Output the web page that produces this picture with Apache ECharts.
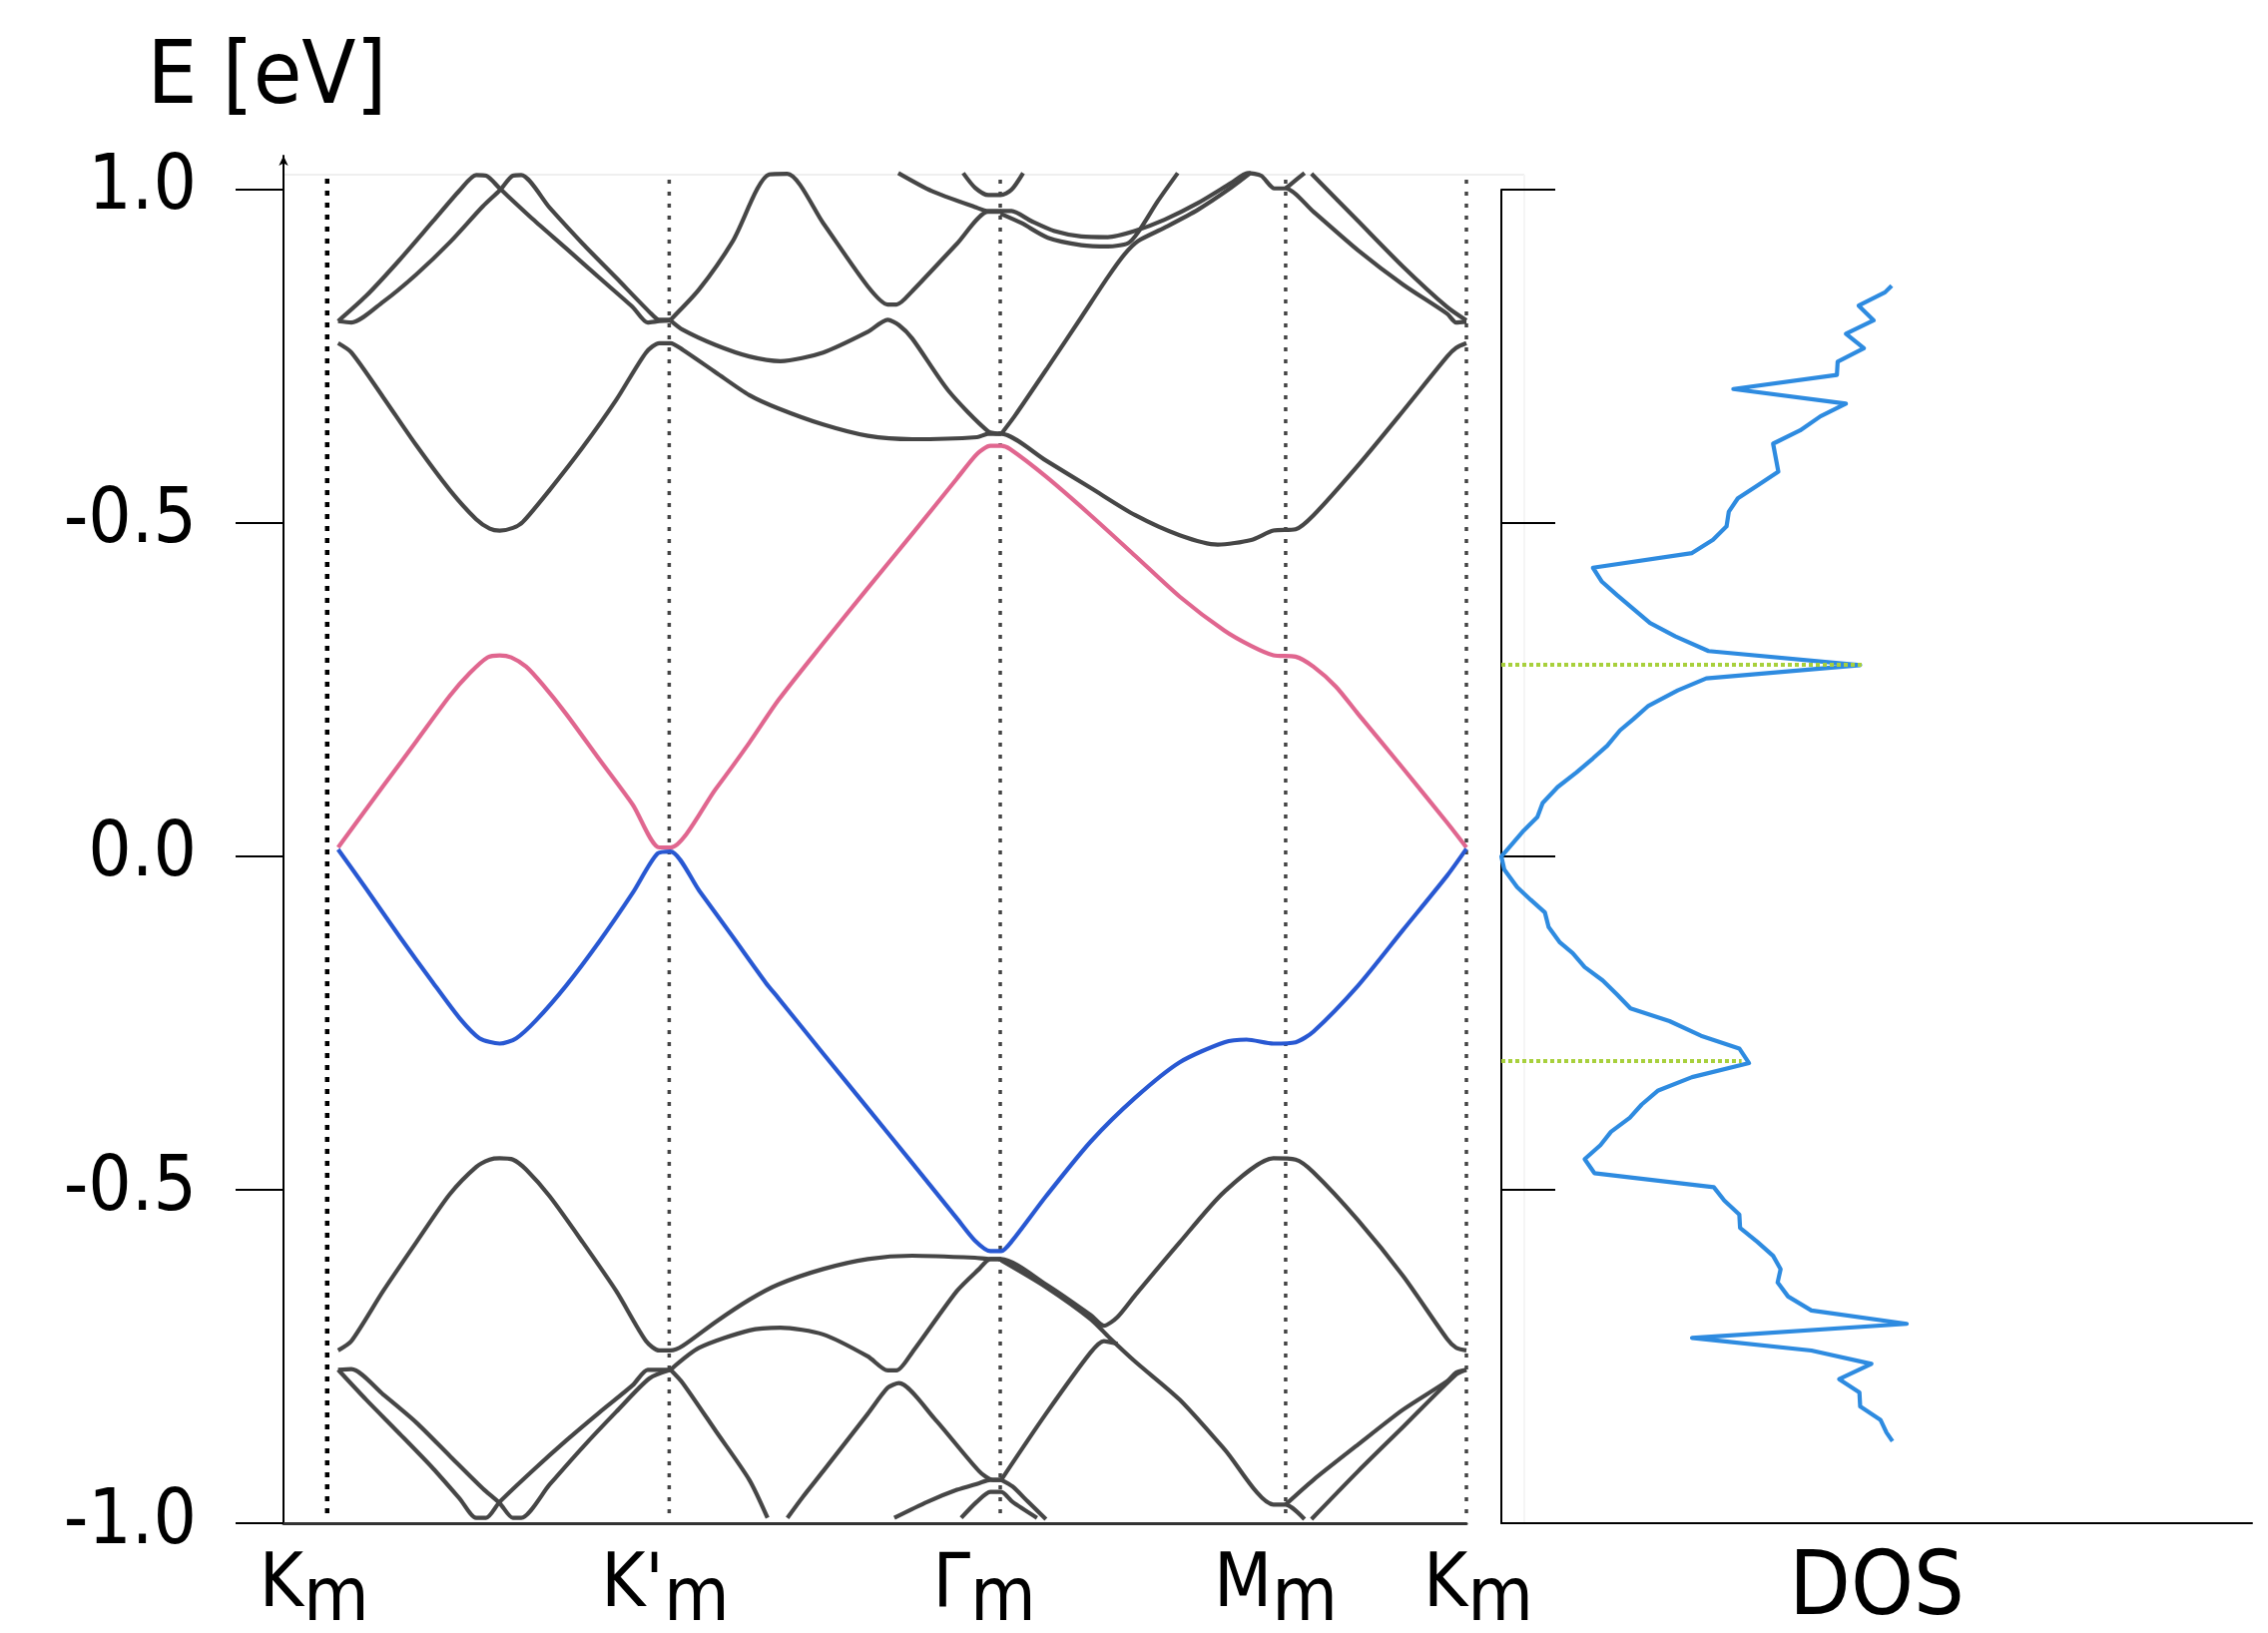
<!DOCTYPE html>
<html>
<head>
<meta charset="utf-8">
<title>Moire bands and DOS</title>
<script src="https://cdn.jsdelivr.net/npm/echarts@6/dist/echarts.min.js"></script>
<style>
  html, body { margin: 0; padding: 0; background: #fff; }
  #chart { width: 2272px; height: 1636px; }
</style>
</head>
<body>
<div id="chart"></div>
<script>
// high-symmetry points along the k-path (path length units, K'm - Km = 1)
const kPoints = [0, 1, 2, 2.862, 3.408];
const kLabels = ['K', "K'", 'Γ', 'M', 'K'];
const kDividers = [-0.033, 1, 2, 2.862, 3.408];

const yTickValues = [-1, -0.5, 0, 0.5, 1];
const yTickLabels = ['-1.0', '-0.5', '0.0', '-0.5', '1.0'];

// flat bands
const bandPink = [[0,0.013],[0.136,0.105],[0.236,0.172],[0.337,0.240],[0.397,0.274],[0.452,0.298],[0.488,0.301],[0.523,0.298],[0.568,0.284],[0.618,0.257],[0.689,0.213],[0.789,0.145],[0.890,0.077],[0.970,0.013],[1.004,0.013],[1.141,0.101],[1.242,0.170],[1.330,0.234],[1.465,0.319],[1.600,0.402],[1.734,0.483],[1.869,0.566],[1.930,0.603],[1.970,0.615],[2.003,0.615],[2.030,0.610],[2.138,0.569],[2.273,0.511],[2.408,0.450],[2.542,0.389],[2.677,0.338],[2.758,0.315],[2.825,0.301],[2.892,0.299],[2.946,0.284],[3.014,0.254],[3.081,0.213],[3.216,0.132],[3.350,0.050],[3.408,0.013]];
const bandBlue = [[0,0.010],[0.085,-0.049],[0.186,-0.121],[0.287,-0.190],[0.367,-0.243],[0.427,-0.273],[0.488,-0.281],[0.538,-0.273],[0.598,-0.246],[0.689,-0.194],[0.789,-0.128],[0.890,-0.055],[0.965,0.004],[1.004,0.007],[1.091,-0.052],[1.192,-0.121],[1.292,-0.190],[1.330,-0.213],[1.465,-0.296],[1.600,-0.378],[1.734,-0.460],[1.869,-0.543],[1.923,-0.576],[1.970,-0.592],[2.003,-0.592],[2.037,-0.576],[2.138,-0.510],[2.273,-0.428],[2.408,-0.362],[2.542,-0.309],[2.677,-0.279],[2.744,-0.275],[2.825,-0.281],[2.892,-0.279],[2.946,-0.263],[3.081,-0.194],[3.216,-0.111],[3.350,-0.029],[3.408,0.011]];

// remote bands above the flat bands
const bandU1 = [[0,0.769],[0.040,0.755],[0.136,0.688],[0.236,0.616],[0.337,0.549],[0.417,0.505],[0.458,0.491],[0.488,0.488],[0.528,0.492],[0.558,0.501],[0.639,0.549],[0.739,0.613],[0.840,0.684],[0.930,0.755],[0.970,0.769],[1.004,0.769],[1.041,0.759],[1.141,0.725],[1.242,0.691],[1.330,0.671],[1.465,0.647],[1.600,0.630],[1.734,0.625],[1.930,0.628],[1.963,0.633],[2.003,0.633],[2.138,0.593],[2.273,0.552],[2.408,0.511],[2.542,0.481],[2.657,0.467],[2.758,0.474],[2.825,0.488],[2.892,0.490],[2.946,0.511],[3.081,0.586],[3.216,0.667],[3.350,0.749],[3.377,0.762],[3.408,0.769]];
const bandA = [[0,0.802],[0.085,0.840],[0.186,0.894],[0.287,0.952],[0.367,0.998],[0.417,1.021],[0.447,1.020],[0.488,1.001],[0.588,0.955],[0.689,0.911],[0.789,0.867],[0.890,0.823],[0.935,0.800],[0.970,0.802],[1.004,0.803]];
const bandB = [[0,0.802],[0.040,0.800],[0.136,0.831],[0.236,0.872],[0.337,0.920],[0.437,0.974],[0.488,0.998],[0.528,1.020],[0.553,1.021],[0.639,0.972],[0.739,0.918],[0.840,0.867],[0.940,0.816],[0.970,0.804],[1.004,0.804]];
const bandC = [[1.004,0.804],[1.091,0.850],[1.192,0.922],[1.302,1.022],[1.357,1.023],[1.465,0.949],[1.600,0.854],[1.660,0.827],[1.687,0.827],[1.734,0.847],[1.869,0.918],[1.963,0.966],[2.003,0.966]];
const bandD = [[1.004,0.803],[1.041,0.789],[1.141,0.766],[1.242,0.749],[1.336,0.742],[1.465,0.755],[1.600,0.786],[1.660,0.804],[1.694,0.796],[1.734,0.776],[1.843,0.698],[1.963,0.637],[2.003,0.633]];
const bandE = [[1.692,1.024],[1.793,0.997],[1.924,0.973],[1.964,0.967],[2.003,0.967]];
const bandF = [[1.888,1.024],[1.924,1.002],[1.964,0.991],[2.001,0.991],[2.034,0.999],[2.069,1.024]];
const bandG1 = [[2.001,0.967],[2.034,0.967],[2.094,0.952],[2.164,0.937],[2.245,0.929],[2.325,0.928],[2.405,0.937],[2.496,0.954],[2.597,0.979],[2.697,1.009],[2.748,1.024],[2.788,1.020],[2.828,1.001],[2.862,1.001],[2.946,0.966],[3.081,0.908],[3.216,0.857],[3.350,0.813],[3.377,0.800],[3.408,0.801]];
const bandG2 = [[2.001,0.963],[2.064,0.949],[2.144,0.927],[2.245,0.916],[2.325,0.914],[2.386,0.919],[2.416,0.935],[2.476,0.982],[2.536,1.024]];
const bandH = [[2.003,0.633],[2.044,0.660],[2.144,0.733],[2.245,0.808],[2.325,0.868],[2.375,0.902],[2.416,0.922],[2.496,0.942],[2.597,0.969],[2.697,1.002],[2.758,1.025]];
const bandJ = [[2.862,1.001],[2.889,1.012],[2.919,1.024]];
const bandK = [[2.940,1.023],[3.081,0.952],[3.216,0.884],[3.350,0.823],[3.408,0.803]];

// remote bands below the flat bands
const bandL1 = [[0,-0.741],[0.040,-0.727],[0.136,-0.652],[0.236,-0.579],[0.337,-0.507],[0.417,-0.466],[0.458,-0.455],[0.488,-0.453],[0.528,-0.455],[0.568,-0.470],[0.639,-0.510],[0.739,-0.579],[0.840,-0.652],[0.930,-0.727],[0.970,-0.741],[1.004,-0.741],[1.041,-0.734],[1.141,-0.698],[1.242,-0.665],[1.330,-0.642],[1.465,-0.619],[1.600,-0.604],[1.734,-0.599],[1.923,-0.602],[1.970,-0.604],[2.003,-0.604],[2.138,-0.642],[2.273,-0.688],[2.313,-0.704],[2.354,-0.691],[2.408,-0.658],[2.542,-0.579],[2.677,-0.503],[2.825,-0.453],[2.892,-0.455],[2.946,-0.474],[3.081,-0.546],[3.216,-0.629],[3.350,-0.724],[3.377,-0.737],[3.408,-0.741]];
const bandL2 = [[2.003,-0.606],[2.138,-0.646],[2.273,-0.694],[2.330,-0.722],[2.408,-0.758],[2.542,-0.815],[2.677,-0.889],[2.825,-0.972],[2.862,-0.972],[2.919,-0.994]];
const bandL3 = [[2.003,-0.935],[2.138,-0.836],[2.273,-0.744],[2.313,-0.727],[2.354,-0.731]];
const bandP1 = [[0,-0.770],[0.085,-0.815],[0.186,-0.866],[0.287,-0.918],[0.367,-0.963],[0.417,-0.992],[0.447,-0.992],[0.488,-0.968],[0.588,-0.921],[0.689,-0.876],[0.789,-0.834],[0.890,-0.793],[0.935,-0.770],[0.970,-0.770],[1.004,-0.770]];
const bandP2 = [[0,-0.770],[0.040,-0.769],[0.136,-0.807],[0.236,-0.849],[0.337,-0.899],[0.437,-0.948],[0.488,-0.970],[0.528,-0.992],[0.553,-0.992],[0.639,-0.942],[0.739,-0.886],[0.840,-0.833],[0.940,-0.783],[1.004,-0.770]];
const bandQ = [[1.004,-0.770],[1.041,-0.790],[1.141,-0.862],[1.242,-0.935],[1.297,-0.992]];
const bandR = [[1.357,-0.992],[1.403,-0.961],[1.465,-0.922],[1.600,-0.836],[1.660,-0.797],[1.694,-0.790],[1.801,-0.843],[1.936,-0.922],[1.977,-0.935],[2.003,-0.935]];
const bandS = [[1.004,-0.770],[1.091,-0.737],[1.242,-0.711],[1.336,-0.707],[1.465,-0.717],[1.600,-0.750],[1.660,-0.771],[1.687,-0.771],[1.734,-0.744],[1.869,-0.652],[1.936,-0.619],[1.970,-0.604],[2.003,-0.604]];
const bandT0 = [[1.680,-0.992],[1.780,-0.968],[1.869,-0.950],[1.936,-0.940],[1.970,-0.935],[2.003,-0.935]];
const bandT1 = [[2.003,-0.935],[2.037,-0.945],[2.084,-0.968],[2.138,-0.994]];
const bandT2 = [[1.882,-0.992],[1.929,-0.968],[1.970,-0.953],[2.003,-0.953],[2.037,-0.968],[2.111,-0.992]];
const bandM1 = [[2.862,-0.972],[2.946,-0.935],[3.081,-0.882],[3.216,-0.830],[3.350,-0.787],[3.377,-0.774],[3.408,-0.770]];
const bandM2 = [[2.940,-0.994],[3.081,-0.922],[3.216,-0.856],[3.377,-0.777],[3.408,-0.770]];

const remoteBands = [bandU1, bandA, bandB, bandC, bandD, bandE, bandF, bandG1, bandG2, bandH, bandJ, bandK,
  bandL1, bandL2, bandL3, bandP1, bandP2, bandQ, bandR, bandS, bandT0, bandT1, bandT2, bandM1, bandM2];

// density of states, read top to bottom
const dosEnergy = [0.856,0.846,0.826,0.804,0.784,0.762,0.742,0.722,0.701,0.679,0.660,0.639,0.619,0.577,0.557,0.537,0.517,0.495,0.475,0.455,0.433,0.412,0.392,0.371,0.350,0.330,0.308,0.287,0.267,0.249,0.226,0.206,0.189,0.166,0.147,0.126,0.104,0.080,0.059,0.039,0.013,0,
  -0.020,-0.046,-0.065,-0.084,-0.106,-0.129,-0.145,-0.166,-0.186,-0.207,-0.228,-0.247,-0.269,-0.288,-0.310,-0.331,-0.351,-0.372,-0.392,-0.413,-0.433,-0.454,-0.475,-0.496,-0.516,-0.537,-0.557,-0.578,-0.599,-0.619,-0.639,-0.660,-0.681,-0.701,-0.722,-0.741,-0.761,-0.784,-0.804,-0.825,-0.845,-0.864,-0.877];
const dosValue = [52.0,51.1,47.6,49.6,45.9,48.3,44.8,44.7,30.9,45.9,42.5,39.8,36.2,36.9,34.2,31.5,30.3,30.0,28.2,25.4,12.2,13.4,15.4,17.6,19.8,23.2,27.6,47.8,27.3,23.5,19.6,17.6,15.8,14.1,12.2,10.0,7.5,5.5,4.8,3.0,1.0,0,
  0.4,2.1,3.9,5.8,6.3,7.8,9.5,11.1,13.5,15.4,17.2,22.4,26.6,31.7,33.0,25.4,20.9,18.7,17.1,14.6,13.2,11.1,12.4,28.3,29.7,31.7,31.8,34.1,36.2,37.2,36.8,38.2,41.3,54.0,25.4,41.3,49.3,45.0,47.7,47.8,50.5,51.3,52.1];

// van Hove singularity markers
const vhsEnergy = [0.2875, -0.307];
const vhsDos = [48.0, 32.0];

const FONT = "'DejaVu Sans Condensed', 'DejaVu Sans', sans-serif";
// horizontal nudge of each k label (px), as in the source figure
const labelShift = [-24, -4, -16, -10, 12];

const chart = echarts.init(document.getElementById('chart'), null, {renderer: 'canvas'});

const series = [];
kDividers.forEach((k, i) => {
  series.push({
    type: 'line', xAxisIndex: 0, yAxisIndex: 0, silent: true, symbol: 'none', z: 1,
    data: [[k, -0.985], [k, 1.024]],
    lineStyle: {color: i === 0 ? '#000' : '#444', width: i === 0 ? 4.5 : 3.5, type: i === 0 ? [5, 7] : [4, 8]}
  });
});
remoteBands.forEach(b => {
  series.push({
    type: 'line', xAxisIndex: 0, yAxisIndex: 0, silent: true, symbol: 'none', z: 2,
    smooth: 0.25,
    data: b, lineStyle: {color: '#464646', width: 4.2, join: 'round'}
  });
});
series.push({
  type: 'line', xAxisIndex: 0, yAxisIndex: 0, silent: true, symbol: 'none', z: 3,
  smooth: 0.25,
  data: bandPink, lineStyle: {color: '#e0668f', width: 4.2, join: 'round'}
});
series.push({
  type: 'line', xAxisIndex: 0, yAxisIndex: 0, silent: true, symbol: 'none', z: 3,
  smooth: 0.25,
  data: bandBlue, lineStyle: {color: '#2858d2', width: 4.2, join: 'round'}
});
series.push({
  type: 'line', xAxisIndex: 1, yAxisIndex: 1, silent: true, symbol: 'none', z: 3,
  data: dosEnergy.map((e, i) => [dosValue[i], e]),
  lineStyle: {color: '#2e8be0', width: 4.2, join: 'round'}
});
vhsEnergy.forEach((e, i) => {
  series.push({
    type: 'line', xAxisIndex: 1, yAxisIndex: 1, silent: true, symbol: 'none', z: 4,
    data: [[0, e], [vhsDos[i], e]],
    lineStyle: {color: '#a8d03c', width: 4, type: [4, 3]}
  });
});

// rich styles: letter + shifted-down "m", with per-label horizontal nudge
const labelRich = {};
labelShift.forEach((s, i) => {
  labelRich['b' + i] = {fontSize: 75, fontFamily: FONT, color: '#000', padding: [0, 0, 14, s > 0 ? 2 * s : 0]};
  labelRich['s' + i] = {fontSize: 75, fontFamily: FONT, color: '#000', padding: [14, s < 0 ? -2 * s : 0, 0, 0]};
});

const option = {
  animation: false,
  backgroundColor: '#fff',
  grid: [
    {left: 284, top: 156, width: 1185, height: 1370, outerBoundsMode: 'none', containLabel: false},
    {left: 1504, top: 190, width: 752, height: 1336, outerBoundsMode: 'none', containLabel: false}
  ],
  xAxis: [
    {
      type: 'value', gridIndex: 0, min: -0.165, max: 3.408,
      splitLine: {show: false},
      axisLine: {onZero: false, lineStyle: {color: '#333', width: 3}},
      axisTick: {show: false},
      axisLabel: {
        customValues: kPoints, margin: 26,
        formatter: v => {
          const i = kPoints.findIndex(p => Math.abs(p - v) < 1e-6);
          return '{b' + i + '|' + kLabels[i] + '}{s' + i + '|m}';
        },
        rich: labelRich
      }
    },
    {
      type: 'value', gridIndex: 1, min: 0, max: 100,
      splitLine: {show: false},
      axisLine: {onZero: false, lineStyle: {color: '#000', width: 2}},
      axisTick: {show: false},
      axisLabel: {show: false},
      name: 'DOS', nameLocation: 'middle', nameGap: 23,
      nameTextStyle: {fontSize: 89, fontFamily: FONT, color: '#000'}
    }
  ],
  yAxis: [
    {
      type: 'value', gridIndex: 0, min: -1, max: 1.05,
      splitLine: {show: false},
      axisLine: {show: true, onZero: false, symbol: ['none', 'arrow'], symbolSize: [7, 10], lineStyle: {color: '#000', width: 2}},
      axisTick: {customValues: yTickValues, length: 48, lineStyle: {color: '#000', width: 2}},
      axisLabel: {
        customValues: yTickValues, margin: 87, fontSize: 76, fontFamily: FONT, color: '#000',
        padding: [16, 0, 0, 0],
        formatter: v => yTickLabels[yTickValues.findIndex(t => Math.abs(t - v) < 1e-6)]
      },
      name: 'E [eV]', nameLocation: 'end', nameGap: 32,
      nameTextStyle: {fontSize: 88, fontFamily: FONT, color: '#000', padding: [0, 33, 0, 0]}
    },
    {
      type: 'value', gridIndex: 1, min: -1, max: 1,
      splitLine: {show: false},
      axisLine: {show: true, onZero: false, lineStyle: {color: '#000', width: 2}},
      axisTick: {inside: true, customValues: [-0.5, 0, 0.5, 1], length: 54, lineStyle: {color: '#000', width: 2}},
      axisLabel: {show: false}
    }
  ],
  graphic: [
    {type: 'line', silent: true, z: 0, shape: {x1: 284, y1: 175, x2: 1527, y2: 175}, style: {stroke: '#efefef', lineWidth: 2}},
    {type: 'line', silent: true, z: 0, shape: {x1: 1527, y1: 175, x2: 1527, y2: 1526}, style: {stroke: '#f5f5f5', lineWidth: 2}}
  ],
  series: series
};

chart.setOption(option);
</script>
</body>
</html>
